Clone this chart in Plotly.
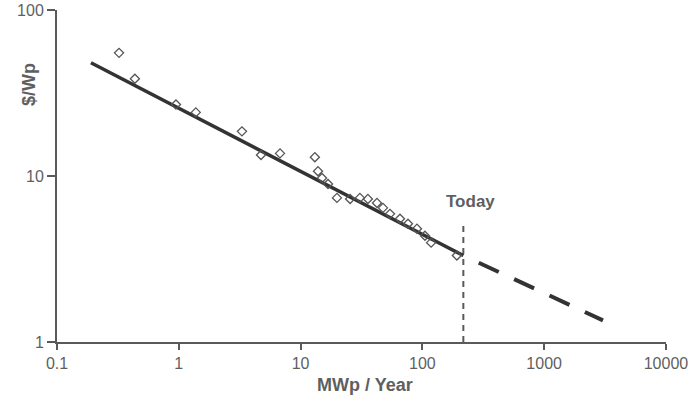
import plotly.graph_objects as go
import math

# Data
mwp_per_year = [0.323, 0.436, 0.948, 1.38, 3.30, 4.73, 6.78, 13.1, 13.9, 15.0, 16.8,
                19.9, 25.5, 30.7, 35.7, 42.4, 47.5, 54.2, 65.5, 76.2, 90.3, 105, 118, 192]
usd_per_wp = [55.3, 38.6, 27.0, 24.2, 18.6, 13.4, 13.7, 13.0, 10.7, 9.73, 8.96,
              7.39, 7.28, 7.39, 7.28, 6.89, 6.43, 5.92, 5.53, 5.16, 4.82, 4.37, 3.97, 3.32]

fit_x = [0.19, 217]
fit_y = [48.2, 3.32]
proj_x = [217, 3040]
proj_y = [3.32, 1.35]

today_x = [217, 217]
today_y = [1, 5.0]

x_tickvals = [0.1, 1, 10, 100, 1000, 10000]
x_ticktext = ["0.1", "1", "10", "100", "1000", "10000"]
y_tickvals = [1, 10, 100]
y_ticktext = ["1", "10", "100"]

axis_col = "#5a5a5a"
text_col = "#5f5f5f"
line_col = "#333333"
font_fam = "Liberation Sans, Arial, sans-serif"

fig = go.Figure()

fig.add_trace(go.Scatter(x=today_x, y=today_y, mode="lines",
                         line=dict(color=axis_col, width=2, dash="6px,5px"),
                         showlegend=False, hoverinfo="skip"))
fig.add_trace(go.Scatter(x=fit_x, y=fit_y, mode="lines",
                         line=dict(color=line_col, width=3.5),
                         showlegend=False))
fig.add_trace(go.Scatter(x=proj_x, y=proj_y, mode="lines",
                         line=dict(color=line_col, width=4, dash="0px,17px,22px,0px"),
                         showlegend=False))
fig.add_trace(go.Scatter(x=mwp_per_year, y=usd_per_wp, mode="markers",
                         marker=dict(symbol="diamond-open", size=7,
                                     color="#555555", line=dict(width=1.3, color="#555555")),
                         showlegend=False))

fig.update_xaxes(type="log", range=[-1, 4.0005], tickvals=x_tickvals, ticktext=x_ticktext,
                 showline=True, linecolor=axis_col, linewidth=2,
                 ticks="outside", ticklen=6, tickwidth=2, tickcolor=axis_col,
                 showgrid=False, zeroline=False, ticklabeloverflow="allow",
                 automargin=False,
                 tickfont=dict(family=font_fam, size=16, color=text_col))
fig.update_yaxes(type="log", range=[0, 2.001], tickvals=y_tickvals, ticktext=y_ticktext,
                 showline=True, linecolor=axis_col, linewidth=2,
                 ticks="outside", ticklen=8, tickwidth=2, tickcolor=axis_col,
                 showgrid=False, zeroline=False, ticklabeloverflow="allow",
                 automargin=False,
                 tickfont=dict(family=font_fam, size=16, color=text_col))

fig.add_annotation(text="<b>$/Wp</b>", xref="paper", yref="paper",
                   x=-0.047, y=0.775, xanchor="center", yanchor="middle",
                   textangle=-90, showarrow=False,
                   font=dict(family=font_fam, size=18, color=text_col))
fig.add_annotation(text="<b>MWp / Year</b>", xref="paper", yref="paper",
                   x=0.506, y=-0.13, xanchor="center", yanchor="middle", showarrow=False,
                   font=dict(family=font_fam, size=18, color=text_col))
fig.add_annotation(text="<b>Today</b>", xref="x", yref="y",
                   x=math.log10(today_x[0]) + 0.055, y=0.844, showarrow=False,
                   xanchor="center", yanchor="middle",
                   font=dict(family=font_fam, size=17, color=text_col))

fig.update_layout(width=693, height=404,
                  margin=dict(l=57, r=27, t=10, b=62),
                  plot_bgcolor="white", paper_bgcolor="white")

fig.write_html("out.html")
